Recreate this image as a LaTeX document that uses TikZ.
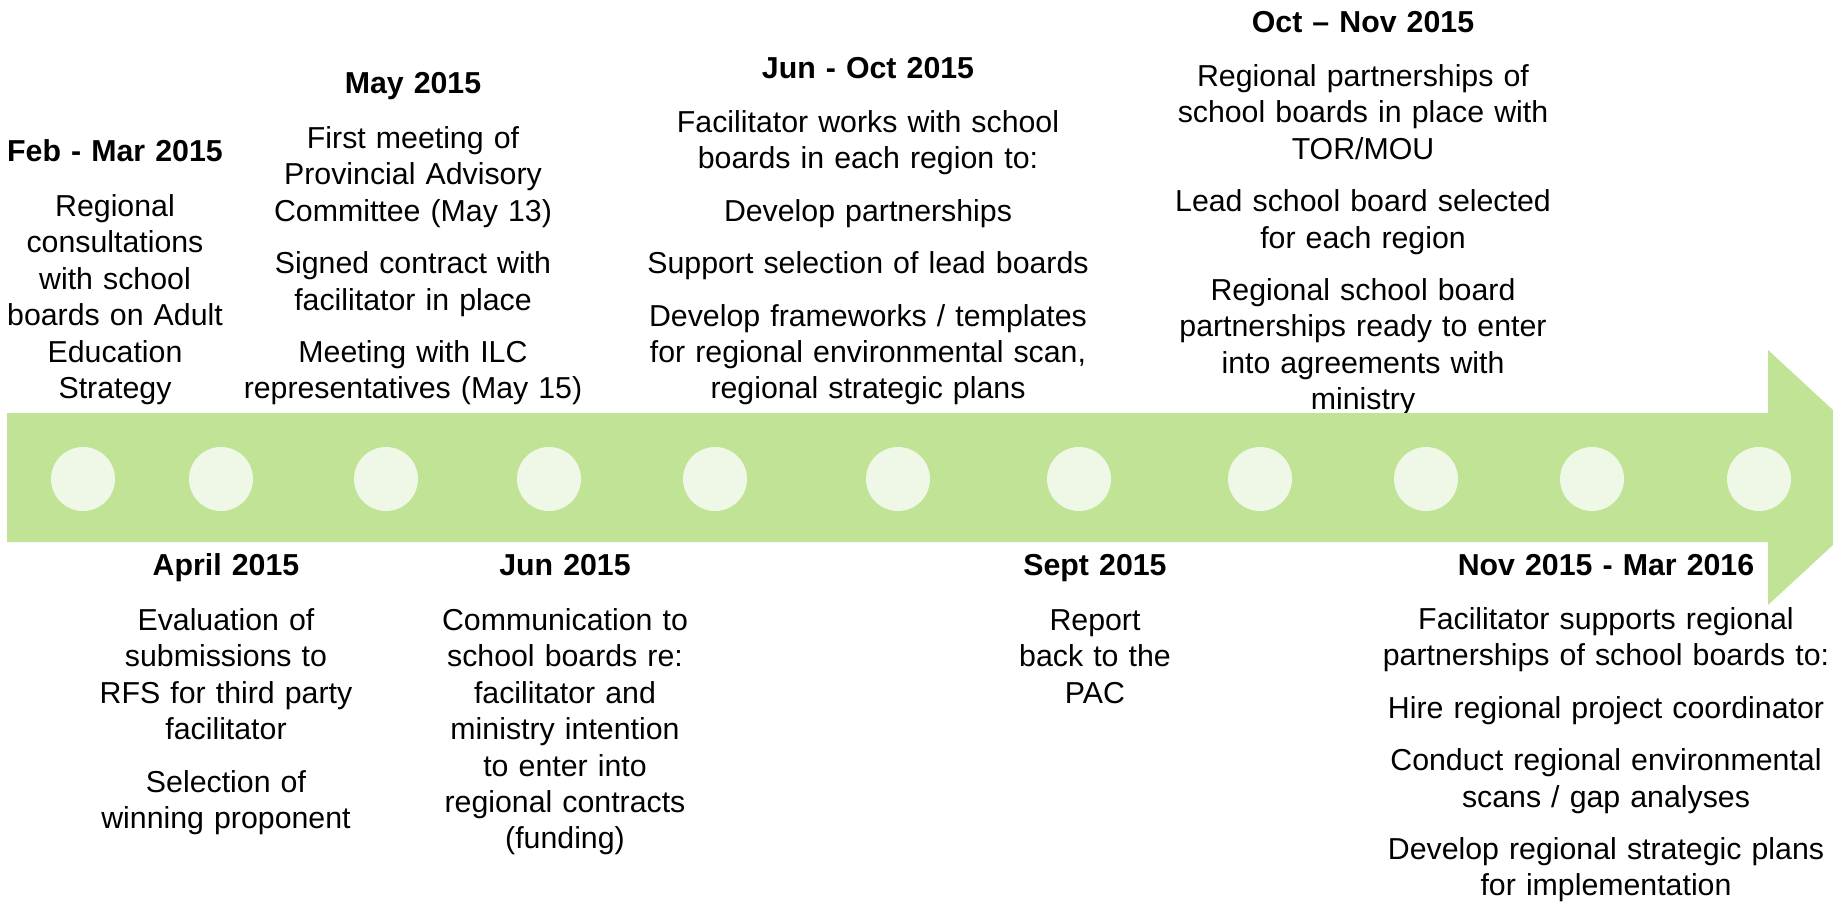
\documentclass[tikz,border=0pt]{standalone}
\usepackage{fontspec}
\setmainfont{Liberation Sans}
\definecolor{shaftgreen}{RGB}{192,227,150}
\definecolor{dotgreen}{RGB}{239,247,230}
\begin{document}
\begin{tikzpicture}[x=1pt,y=-1pt,
  block/.style={anchor=base, text width=560pt, align=center, inner sep=0pt,
    font=\fontsize{30.3}{36.4}\selectfont},
  milestone/.style={circle, fill=dotgreen, minimum size=64pt, inner sep=0pt}]
\useasboundingbox (0,0) rectangle (1833,902);
\fill[white] (0,0) rectangle (1833,902);

% events above the timeline
\node[block] (febmar) at (115,161) {\textbf{Feb - Mar 2015}\\[19pt]
  Regional\\ consultations\\ with school\\ boards on Adult\\ Education\\ Strategy};
\node[block] (may) at (413,93) {\textbf{May 2015}\\[19pt]
  First meeting of\\ Provincial Advisory\\ Committee (May 13)\\[16pt]
  Signed contract with\\ facilitator in place\\[16pt]
  Meeting with ILC\\ representatives (May 15)};
\node[block] (junoct) at (868,78) {\textbf{Jun - Oct 2015}\\[18pt]
  Facilitator works with school\\ boards in each region to:\\[16pt]
  Develop partnerships\\[16pt]
  Support selection of lead boards\\[16pt]
  Develop frameworks / templates\\ for regional environmental scan,\\ regional strategic plans};
\node[block] (octnov) at (1363,32) {\textbf{Oct – Nov 2015}\\[18pt]
  Regional partnerships of\\ school boards in place with\\ TOR/MOU\\[16pt]
  Lead school board selected\\ for each region\\[16pt]
  Regional school board\\ partnerships ready to enter\\ into agreements with\\ ministry};

% events below the timeline
\node[block] (april) at (226,575) {\textbf{April 2015}\\[19pt]
  Evaluation of\\ submissions to\\ RFS for third party\\ facilitator\\[16pt]
  Selection of\\ winning proponent};
\node[block] (jun) at (565,575) {\textbf{Jun 2015}\\[19pt]
  Communication to\\ school boards re:\\ facilitator and\\ ministry intention\\ to enter into\\ regional contracts\\ (funding)};
\node[block] (sept) at (1095,575) {\textbf{Sept 2015}\\[19pt]
  Report\\ back to the\\ PAC};
\node[block] (novmar) at (1606,575) {\textbf{Nov 2015 - Mar 2016}\\[18pt]
  Facilitator supports regional\\ partnerships of school boards to:\\[16pt]
  Hire regional project coordinator\\[16pt]
  Conduct regional environmental\\ scans / gap analyses\\[16pt]
  Develop regional strategic plans\\ for implementation};

% timeline arrow
\begin{scope}
  \clip (0,0) rectangle (1833,902);
  \fill[shaftgreen] (7,413) -- (1768,413) -- (1768,350) -- (1906,477.5)
    -- (1768,605) -- (1768,542) -- (7,542) -- cycle;
\end{scope}

% milestone dots
\foreach \cx [count=\i] in {83,221,386,549,715,898,1079,1260,1426,1592,1759}
  \node[milestone] (dot\i) at (\cx,479) {};
\end{tikzpicture}
\end{document}
